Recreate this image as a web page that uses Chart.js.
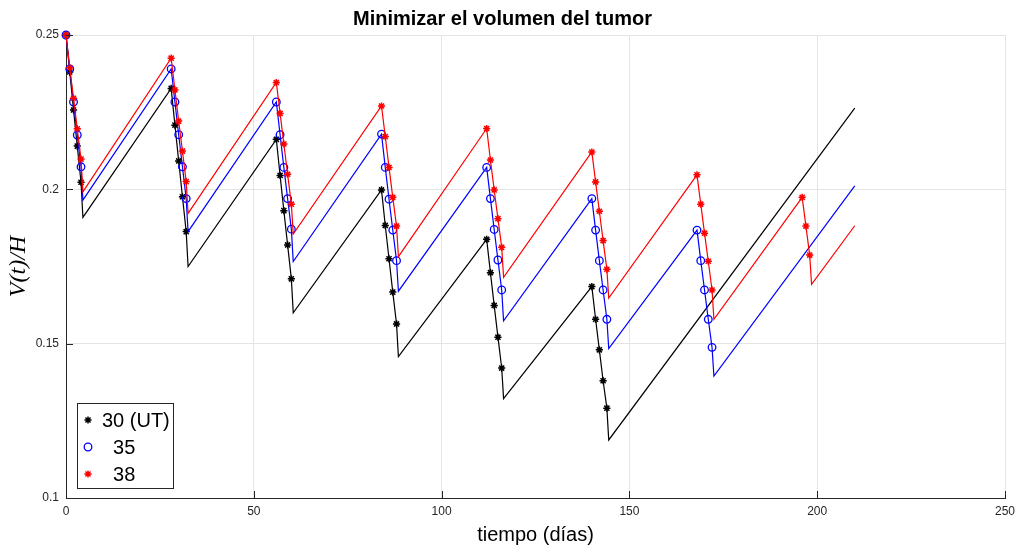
<!DOCTYPE html>
<html>
<head>
<meta charset="utf-8">
<title>Minimizar el volumen del tumor</title>
<script src="https://cdn.jsdelivr.net/npm/chart.js@4.4.1/dist/chart.umd.min.js"></script>
<style>
  html, body { margin: 0; padding: 0; background: #fff; }
  #wrap { width: 1016px; height: 545px; }
</style>
</head>
<body>
<div id="wrap"><canvas id="tumorChart" width="1016" height="545"></canvas></div>
<script>
// treatment cycles start every 28 days, one dose per day inside a cycle
const cycleStarts = [0, 28, 56, 84, 112, 140, 168, 196];
const endDay = 210;

const xTicks = [0, 50, 100, 150, 200, 250];
const yTicks = [0.1, 0.15, 0.2, 0.25];

// V(t)/H at each dose (the markers), one row per cycle
const doses30 = [
  [0.250, 0.238, 0.2257, 0.214, 0.2023],
  [0.2327, 0.2208, 0.2092, 0.1976, 0.1863],
  [0.2162, 0.2045, 0.1931, 0.182, 0.171],
  [0.1998, 0.1883, 0.1775, 0.1667, 0.1564],
  [0.1838, 0.173, 0.1624, 0.1521, 0.1421],
  [0.1685, 0.1579, 0.148, 0.138, 0.1291]
];
// lowest value reached right after the last dose of each cycle
const mins30 = [0.1909, 0.175, 0.16, 0.1458, 0.1322, 0.1188];
const end30 = 0.2263;

const doses35 = [
  [0.250, 0.239, 0.2283, 0.2176, 0.2073],
  [0.239, 0.2283, 0.2177, 0.2073, 0.197],
  [0.2283, 0.2177, 0.2071, 0.197, 0.1871],
  [0.2179, 0.2071, 0.1968, 0.1868, 0.1769],
  [0.2071, 0.197, 0.187, 0.1771, 0.1674],
  [0.197, 0.1868, 0.1769, 0.1674, 0.1579],
  [0.1868, 0.1769, 0.1674, 0.1579, 0.1488]
];
const mins35 = [0.1965, 0.1863, 0.1766, 0.167, 0.1574, 0.1484, 0.1395];
const end35 = 0.2011;

const doses38 = [
  [0.250, 0.2394, 0.2295, 0.2196, 0.2098],
  [0.2425, 0.2322, 0.2221, 0.2124, 0.2025],
  [0.2346, 0.2246, 0.2147, 0.2049, 0.1952],
  [0.227, 0.2171, 0.2071, 0.1974, 0.1881],
  [0.2197, 0.2095, 0.1998, 0.1905, 0.1812],
  [0.2121, 0.2024, 0.1929, 0.1834, 0.1741],
  [0.2047, 0.1952, 0.1858, 0.1767, 0.1674],
  [0.1974, 0.1881, 0.1787]
];
const mins38 = [0.1992, 0.1922, 0.1855, 0.1782, 0.1715, 0.1648, 0.1579, 0.1692];
const end38 = 0.1882;

const seriesLabels = ['30 (UT)', '  35', '  38'];
const seriesColors = ['#000000', '#0000ff', '#ff0000'];
const seriesMarkers = ['star', 'circle', 'star'];

// turn the cycle tables into line points, markers only on dose days
function buildSeries(doses, mins, endValue) {
  const pts = [];
  doses.forEach((cycle, c) => {
    const t0 = cycleStarts[c];
    cycle.forEach((v, k) => pts.push({ x: t0 + k, y: v, mark: true }));
    pts.push({ x: t0 + cycle.length - 0.5, y: mins[c], mark: false });
  });
  pts.push({ x: endDay, y: endValue, mark: false });
  return pts;
}

const seriesData = [
  buildSeries(doses30, mins30, end30),
  buildSeries(doses35, mins35, end35),
  buildSeries(doses38, mins38, end38)
];

const axisColor = '#262626';
const gridColor = '#e4e4e4';

function markerRadius(style) {
  return style === 'circle' ? 3.8 : 3.6;
}

function drawMarker(ctx, style, color, x, y) {
  const r = markerRadius(style);
  ctx.save();
  ctx.strokeStyle = color;
  ctx.lineWidth = style === 'circle' ? 1.3 : 1.5;
  ctx.beginPath();
  if (style === 'circle') {
    ctx.arc(x, y, r, 0, Math.PI * 2);
  } else {
    for (let i = 0; i < 4; i++) {
      const a = i * Math.PI / 4;
      ctx.moveTo(x - r * Math.cos(a), y - r * Math.sin(a));
      ctx.lineTo(x + r * Math.cos(a), y + r * Math.sin(a));
    }
  }
  ctx.stroke();
  ctx.restore();
}

// MATLAB style inward tick marks
const inwardTicks = {
  id: 'inwardTicks',
  afterDraw(chart) {
    const { ctx, chartArea, scales } = chart;
    ctx.save();
    ctx.strokeStyle = axisColor;
    ctx.lineWidth = 1;
    ctx.beginPath();
    xTicks.forEach(v => {
      const px = Math.round(scales.x.getPixelForValue(v)) + 0.5;
      ctx.moveTo(px, chartArea.bottom);
      ctx.lineTo(px, chartArea.bottom - 7);
    });
    yTicks.forEach(v => {
      const py = Math.round(scales.y.getPixelForValue(v)) + 0.5;
      ctx.moveTo(chartArea.left, py);
      ctx.lineTo(chartArea.left + 7, py);
    });
    ctx.stroke();
    ctx.restore();
  }
};

// legend box in the lower left corner of the plot
const legendBox = {
  id: 'legendBox',
  afterDraw(chart) {
    const { ctx, chartArea } = chart;
    const bx = chartArea.left + 11;
    const bw = 96, bh = 85;
    const by = chartArea.bottom - 10 - bh;
    ctx.save();
    ctx.fillStyle = '#ffffff';
    ctx.fillRect(bx, by, bw, bh);
    ctx.strokeStyle = axisColor;
    ctx.lineWidth = 1;
    ctx.strokeRect(bx + 0.5, by + 0.5, bw, bh);
    ctx.font = '20px "Liberation Sans", Arial, sans-serif';
    ctx.fillStyle = '#000000';
    ctx.textBaseline = 'middle';
    seriesLabels.forEach((lab, i) => {
      const ry = by + 17 + i * 27;
      drawMarker(ctx, seriesMarkers[i], seriesColors[i], bx + 11, ry);
      ctx.fillText(lab, bx + 25, ry + 1);
    });
    ctx.restore();
  }
};

const datasets = seriesData.map((pts, i) => ({
  label: seriesLabels[i],
  data: pts,
  borderColor: seriesColors[i],
  backgroundColor: seriesColors[i],
  borderWidth: 1.2,
  tension: 0,
  clip: false,
  pointStyle: seriesMarkers[i],
  pointRadius: ctx => (ctx.raw && ctx.raw.mark ? markerRadius(seriesMarkers[i]) : 0),
  pointBorderColor: seriesColors[i],
  pointBackgroundColor: 'rgba(0,0,0,0)',
  pointBorderWidth: seriesMarkers[i] === 'circle' ? 1.3 : 1.5,
  order: 3 - i
}));

new Chart(document.getElementById('tumorChart'), {
  type: 'line',
  data: { datasets: datasets },
  plugins: [inwardTicks, legendBox],
  options: {
    responsive: false,
    animation: false,
    events: [],
    devicePixelRatio: 1,
    layout: { padding: { left: 0, right: 11, top: 0, bottom: 0 } },
    plugins: {
      legend: { display: false },
      tooltip: { enabled: false },
      title: {
        display: true,
        text: 'Minimizar el volumen del tumor',
        color: '#000000',
        font: { family: '"Liberation Sans", Arial, sans-serif', size: 20, weight: 'bold', lineHeight: 1.2 },
        padding: { top: 7, bottom: 4 }
      }
    },
    scales: {
      x: {
        type: 'linear',
        min: 0,
        max: 250,
        afterBuildTicks: s => { s.ticks = xTicks.map(v => ({ value: v })); },
        afterFit: s => { s.height = 47; s.paddingLeft = 0; s.paddingRight = 0; },
        grid: { color: gridColor, drawTicks: false },
        border: { display: true, color: axisColor, width: 1 },
        ticks: {
          color: axisColor,
          padding: 6,
          maxRotation: 0,
          font: { family: '"Liberation Sans", Arial, sans-serif', size: 12 }
        },
        title: {
          display: true,
          text: 'tiempo (días)',
          color: '#000000',
          font: { family: '"Liberation Sans", Arial, sans-serif', size: 20, lineHeight: 1 },
          padding: { top: 0, bottom: 0 }
        }
      },
      y: {
        type: 'linear',
        min: 0.1,
        max: 0.25,
        afterBuildTicks: s => { s.ticks = yTicks.map(v => ({ value: v })); },
        afterFit: s => { s.width = 66; },
        grid: { color: gridColor, drawTicks: false },
        border: { display: true, color: axisColor, width: 1 },
        ticks: {
          color: axisColor,
          padding: 7,
          callback: v => String(+v.toFixed(2)),
          font: { family: '"Liberation Sans", Arial, sans-serif', size: 12 }
        },
        title: {
          display: true,
          text: 'V(t)/H',
          color: '#000000',
          font: { family: '"Liberation Serif", "DejaVu Serif", serif', size: 24, style: 'italic', lineHeight: 1.2 },
          padding: { top: 4, bottom: 0 }
        }
      }
    }
  }
});
</script>
</body>
</html>
